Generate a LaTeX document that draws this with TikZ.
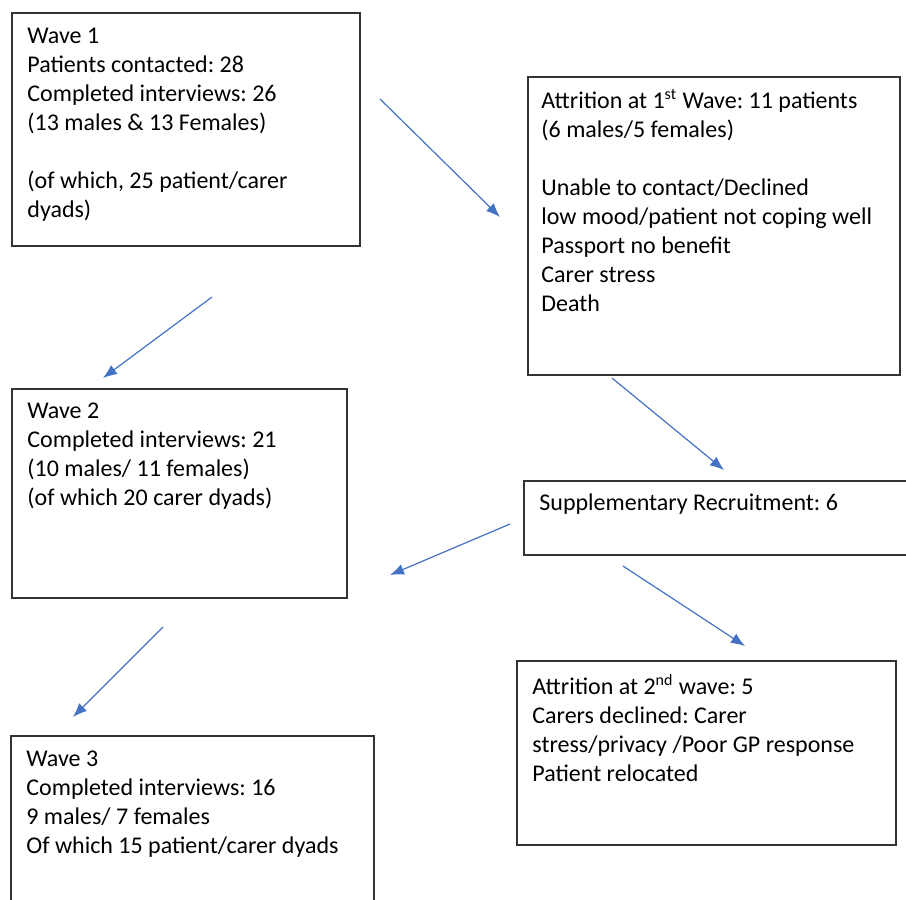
\documentclass[tikz,border=0pt]{standalone}
\usepackage{fontspec}
\setmainfont{Carlito}
\usetikzlibrary{arrows.meta,positioning}
\definecolor{flowblue}{RGB}{68,114,196}
\tikzset{
  box/.style={draw=black!80, line width=1pt, anchor=north west, inner sep=0pt},
  boxtext/.style={inner sep=0pt, align=left, font=\fontsize{12}{14.5}\selectfont},
  flow/.style={draw=flowblue, line width=0.6pt, -{Latex[length=7pt,width=5.5pt]}},
}
\newcommand{\firstline}{\rule{0pt}{10pt}}
\frenchspacing
\begin{document}
\begin{tikzpicture}[x=0.5pt, y=-0.5pt]
\useasboundingbox (0,0) rectangle (906,900);

% boxes
\node[box, minimum width=174pt, minimum height=116.5pt] (wave1) at (11,12) {};
\node[box, minimum width=186pt, minimum height=149pt] (attr1) at (527,76) {};
\node[box, minimum width=167.5pt, minimum height=104.5pt] (wave2) at (11,388) {};
\node[box, minimum width=200pt, minimum height=37pt] (supp) at (523,480) {};
\node[box, minimum width=189.5pt, minimum height=92pt] (attr2) at (516,660) {};
\node[box, minimum width=181.5pt, minimum height=100pt] (wave3) at (10,735) {};

% texts
\node[boxtext, below right=5.5pt and 8pt of wave1.north west] (wave1txt) {\firstline Wave 1\\
Patients contacted: 28\\
Completed interviews: 26\\
(13 males \& 13 Females)\\[14.5pt]
(of which, 25 patient/carer\\
dyads)};
\node[boxtext, below right=6pt and 7pt of attr1.north west] (attr1txt) {\firstline Attrition at 1\textsuperscript{st} Wave: 11 patients\\
(6 males/5 females)\\[14.5pt]
Unable to contact/Declined\\
low mood/patient not coping well\\
Passport no benefit\\
Carer stress\\
Death};
\node[boxtext, below right=5pt and 8pt of wave2.north west] (wave2txt) {\firstline Wave 2\\
Completed interviews: 21\\
(10 males/ 11 females)\\
(of which 20 carer dyads)};
\node[boxtext, below right=5pt and 8pt of supp.north west] (supptxt) {\firstline Supplementary Recruitment: 6};
\node[boxtext, below right=7pt and 8pt of attr2.north west] (attr2txt) {\firstline Attrition at 2\textsuperscript{nd} wave: 5\\
Carers declined: Carer\\
stress/privacy /Poor GP response\\
Patient relocated};
\node[boxtext, below right=5.5pt and 8pt of wave3.north west] (wave3txt) {\firstline Wave 3\\
Completed interviews: 16\\
9 males/ 7 females\\
Of which 15 patient/carer dyads};

% arrow ends
\coordinate (a1s) at (380,99);  \coordinate (a1e) at (500,217);
\coordinate (a2s) at (212,297); \coordinate (a2e) at (103,378);
\coordinate (a3s) at (612,378); \coordinate (a3e) at (724,470);
\coordinate (a4s) at (510,524); \coordinate (a4e) at (390,575);
\coordinate (a5s) at (623,566); \coordinate (a5e) at (745,646);
\coordinate (a6s) at (163,627); \coordinate (a6e) at (73,717);
\foreach \n in {1,...,6}{
\draw[flow] (a\n s) -- (a\n e);
}
\end{tikzpicture}
\end{document}
